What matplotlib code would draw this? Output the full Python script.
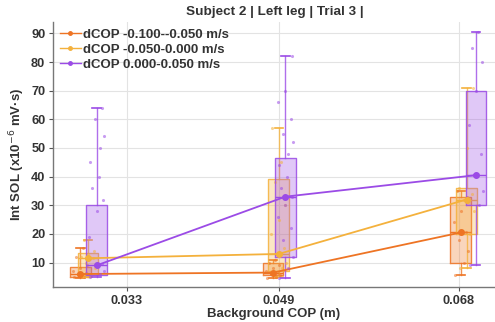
import matplotlib
matplotlib.use("Agg")
import matplotlib.pyplot as plt
from matplotlib.lines import Line2D

plt.rcParams["font.family"] = ["Liberation Sans", "DejaVu Sans"]

# Background COP tick values (m)
tick_values = [0.033, 0.049, 0.068]
tick_labels = ["0.033", "0.049", "0.068"]

series_names = ["dCOP -0.100--0.050 m/s", "dCOP -0.050-0.000 m/s", "dCOP 0.000-0.050 m/s"]
series_colors = ["#ee7424", "#f4b13c", "#9b4be6"]

# Mean background COP of each group, per dCOP bin
x_orange = [0.0281, 0.0484, 0.0682]
x_yellow = [0.0289, 0.0490, 0.0688]
x_purple = [0.0298, 0.0497, 0.0698]

# Box statistics per group: low whisker, Q1, median, Q3, high whisker
orange_stats = [(4.5, 5.0, 6.0, 8.5, 15.0), (4.5, 5.5, 6.5, 10.0, 11.0), (5.5, 10.0, 20.5, 33.0, 35.0)]
yellow_stats = [(5.0, 5.5, 11.5, 13.5, 18.0), (5.0, 7.0, 13.0, 39.0, 57.0), (8.0, 20.0, 32.0, 36.0, 71.0)]
purple_stats = [(5.0, 5.5, 9.0, 30.0, 64.0), (4.5, 12.0, 33.0, 46.5, 82.0), (9.0, 30.0, 40.5, 70.0, 90.5)]

# Individual trial values per group
orange_pts = [[5, 5.5, 6, 6, 6.5, 7, 8, 9, 12, 15],
              [4.5, 5, 5.5, 6, 6.5, 7, 8, 9, 10, 11],
              [5.5, 10, 14, 18, 20.5, 24, 28, 33, 35]]
yellow_pts = [[5, 6, 8, 10, 11.5, 12, 13, 14, 18],
              [6, 8, 10, 13, 15, 20, 25, 30, 38, 45, 57],
              [8, 20, 28, 32, 34, 36, 50, 71]]
purple_pts = [[5, 6, 7, 9, 9.5, 19, 28, 32, 36, 40, 45, 50, 54, 60, 64],
              [4.5, 8, 12, 18, 22, 26, 30, 33, 36, 40, 44, 48, 52, 55, 60, 66, 70, 82],
              [9, 30, 35, 40.5, 48, 58, 70, 80, 85, 90.5]]

fig = plt.figure(figsize=(4.95, 3.22), dpi=100)
ax = fig.add_axes([0.107, 0.109, 0.893, 0.823])

box_w = 0.0022
spread = [-0.3, 0.15, 0.35, -0.1, 0.25, -0.35, 0.0, 0.3, -0.2, 0.1]

groups = [
    (x_orange, orange_stats, orange_pts, series_colors[0]),
    (x_yellow, yellow_stats, yellow_pts, series_colors[1]),
    (x_purple, purple_stats, purple_pts, series_colors[2]),
]

for z, (xs, stats, pts, col) in enumerate(groups):
    bstats = []
    for (lo, q1, med, q3, hi) in stats:
        bstats.append(dict(whislo=lo, q1=q1, med=med, q3=q3, whishi=hi, fliers=[]))
    ax.bxp(bstats, positions=xs, widths=box_w, patch_artist=True, showfliers=False,
           capwidths=box_w * 0.4, manage_ticks=False,
           boxprops=dict(facecolor=col, alpha=0.3, edgecolor=col, linewidth=1.0),
           whiskerprops=dict(color=col, linewidth=1.0, alpha=0.8),
           capprops=dict(color=col, linewidth=1.2),
           medianprops=dict(color=col, linewidth=1.0),
           zorder=2 + z)
    # box outlines drawn opaque on top of the translucent fill
    for x, (lo, q1, med, q3, hi) in zip(xs, stats):
        ax.plot([x - box_w / 2, x + box_w / 2, x + box_w / 2, x - box_w / 2, x - box_w / 2],
                [q1, q1, q3, q3, q1], color=col, lw=0.9, alpha=0.8, zorder=3 + z)
    for x, vals in zip(xs, pts):
        px = [x + spread[i % len(spread)] * box_w for i in range(len(vals))]
        ax.scatter(px, vals, s=5, color=col, alpha=0.55, linewidths=0, zorder=4 + z)
    meds = [s[2] for s in stats]
    ax.plot(xs, meds, color=col, lw=1.3, marker="o", ms=4, zorder=6 + z)

ax.set_xlim(0.0252, 0.0718)
ax.set_ylim(1.5, 94)
ax.set_xticks(tick_values)
ax.set_xticklabels(tick_labels)
ax.set_yticks(range(10, 100, 10))

ax.grid(True, color="#e3e3e3", linewidth=0.8)
ax.set_axisbelow(True)
for s in ["top", "right"]:
    ax.spines[s].set_visible(False)
for s in ["left", "bottom"]:
    ax.spines[s].set_color("#777777")
    ax.spines[s].set_linewidth(1.0)
ax.tick_params(axis="both", labelsize=9.2, colors="#555555", length=3, width=0.8, pad=2.5)
for lab in ax.get_xticklabels() + ax.get_yticklabels():
    lab.set_fontweight("bold")
    lab.set_color("#333333")

ax.set_xlabel("Background COP (m)", fontsize=9.5, fontweight="bold", color="#333333", labelpad=1)
ax.set_ylabel("Int SOL (x10$^{-6}$ mV\u00b7s)", fontsize=9.5, fontweight="bold", color="#333333", labelpad=3)
fig.text(0.555, 0.963, "Subject 2 | Left leg | Trial 3 |", ha="center", va="center",
         fontsize=9.7, fontweight="bold", color="#333333")

handles = [Line2D([0], [0], color=c, lw=1.0, marker="o", ms=2.5) for c in series_colors]
leg = ax.legend(handles, series_names, loc="upper left", bbox_to_anchor=(0.0, 1.0),
                frameon=False, fontsize=9.5, handlelength=1.6, handletextpad=0.2,
                labelspacing=0.22, borderaxespad=0.1)
for t in leg.get_texts():
    t.set_fontweight("bold")
    t.set_color("#333333")

fig.savefig("out.png", dpi=100)
